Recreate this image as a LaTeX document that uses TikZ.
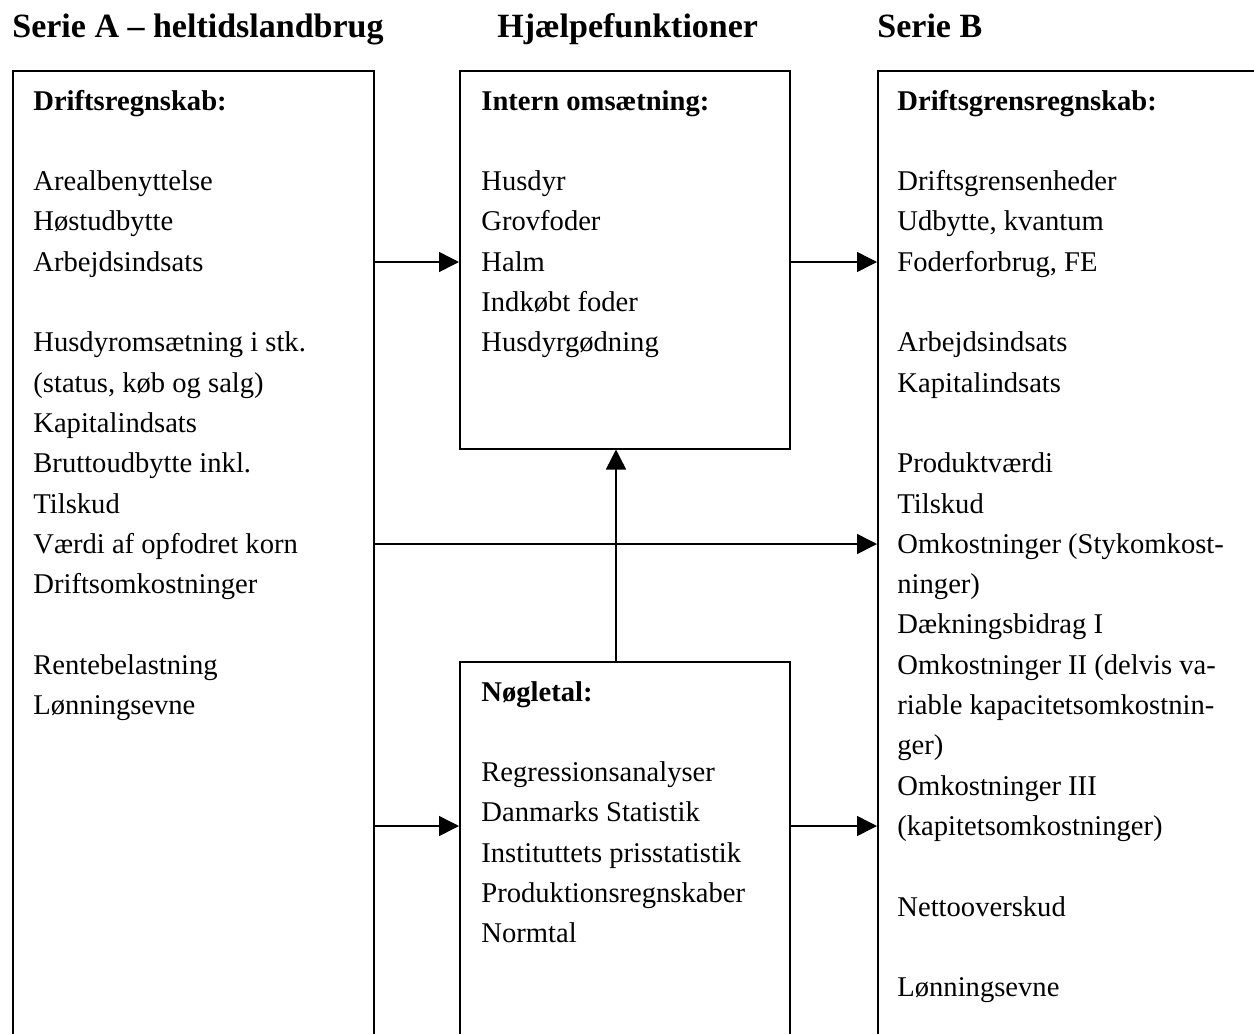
\documentclass[tikz,border=0pt]{standalone}
\usepackage{fontspec}
\setmainfont{Liberation Serif}
\usetikzlibrary{arrows.meta}
\newcommand\txtblock[1]{\begin{minipage}[t]{200pt}\setlength\parindent{0pt}\fontsize{14.3}{20.15}\selectfont #1\end{minipage}}
\begin{document}
\begin{tikzpicture}[x=0.5pt,y=-0.5pt,
  box/.style={draw,line width=0.75pt,rectangle,inner sep=0pt,anchor=north west},
  txt/.style={anchor=base west,inner sep=0pt},
  ttl/.style={anchor=base west,inner sep=0pt,font=\fontsize{17}{20}\selectfont\bfseries},
  arr/.style={line width=0.75pt,-{Triangle[length=10pt,width=10pt]}}]
\useasboundingbox (0,0) rectangle (1254,1034);
\clip (0,0) rectangle (1254,1034);
% titles
\node[ttl] (tA) at (12,37) {Serie A – heltidslandbrug};
\node[ttl] (tH) at (497,37) {Hjælpefunktioner};
\node[ttl] (tB) at (877,37) {Serie B};
% boxes
\node[box,minimum width=180.5pt,minimum height=520pt] (A) at (12,70) {};
\node[box,minimum width=165pt,minimum height=189pt] (H) at (459,70) {};
\node[box,minimum width=165pt,minimum height=300pt] (N) at (459,661) {};
\node[box,minimum width=220pt,minimum height=520pt] (B) at (877,70) {};
% texts
\node[txt] (xA) at (33,110) {\txtblock{\textbf{Driftsregnskab:}\\ \mbox{}\\
Arealbenyttelse\\ Høstudbytte\\ Arbejdsindsats\\ \mbox{}\\
Husdyromsætning i stk.\\ (status, køb og salg)\\ Kapitalindsats\\
Bruttoudbytte inkl.\\ Tilskud\\ Værdi af opfodret korn\\ Driftsomkostninger\\ \mbox{}\\
Rentebelastning\\ Lønningsevne}};
\node[txt] (xH) at (481,110) {\txtblock{\textbf{Intern omsætning:}\\ \mbox{}\\
Husdyr\\ Grovfoder\\ Halm\\ Indkøbt foder\\ Husdyrgødning}};
\node[txt] (xN) at (481,701) {\txtblock{\textbf{Nøgletal:}\\ \mbox{}\\
Regressionsanalyser\\ Danmarks Statistik\\ Instituttets prisstatistik\\
Produktionsregnskaber\\ Normtal}};
\node[txt] (xB) at (897,110) {\txtblock{\textbf{Driftsgrensregnskab:}\\ \mbox{}\\
Driftsgrensenheder\\ Udbytte, kvantum\\ Foderforbrug, FE\\ \mbox{}\\
Arbejdsindsats\\ Kapitalindsats\\ \mbox{}\\
Produktværdi\\ Tilskud\\ Omkostninger (Stykomkost-\\ ninger)\\ Dækningsbidrag I\\
Omkostninger II (delvis va-\\ riable kapacitetsomkostnin-\\ ger)\\
Omkostninger III\\ (kapitetsomkostninger)\\ \mbox{}\\
Nettooverskud\\ \mbox{}\\ Lønningsevne}};
% connectors
\coordinate (r1) at (0,262);
\coordinate (r2) at (0,544);
\coordinate (r3) at (0,826);
\coordinate (v) at (616,0);
\draw[arr] (A.east |- r1) -- (H.west |- r1);
\draw[arr] (H.east |- r1) -- (B.west |- r1);
\draw[arr] (A.east |- r2) -- (B.west |- r2);
\draw[arr] (N.north -| v) -- (H.south -| v);
\draw[arr] (A.east |- r3) -- (N.west |- r3);
\draw[arr] (N.east |- r3) -- (B.west |- r3);
\end{tikzpicture}
\end{document}
